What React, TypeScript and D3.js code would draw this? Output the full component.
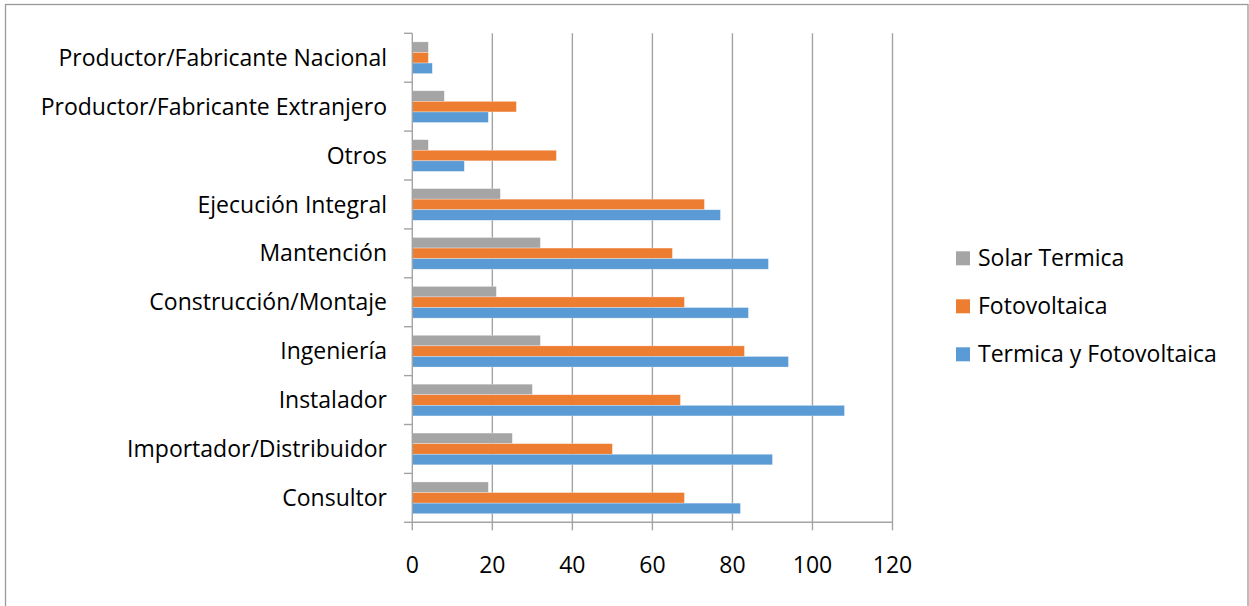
import React from "react";
import * as d3 from "d3";

const categories = [
  "Productor/Fabricante Nacional",
  "Productor/Fabricante Extranjero",
  "Otros",
  "Ejecución Integral",
  "Mantención",
  "Construcción/Montaje",
  "Ingeniería",
  "Instalador",
  "Importador/Distribuidor",
  "Consultor",
];
const seriesNames = ["Solar Termica", "Fotovoltaica", "Termica y Fotovoltaica"];
const solarTermica = [4, 8, 4, 22, 32, 21, 32, 30, 25, 19];
const fotovoltaica = [4, 26, 36, 73, 65, 68, 83, 67, 50, 68];
const termicaYFoto = [5, 19, 13, 77, 89, 84, 94, 108, 90, 82];
const seriesColors = ["#A5A5A5", "#ED7D31", "#5B9BD5"];
const xTicks = [0, 20, 40, 60, 80, 100, 120];

const W = 1249;
const H = 606;
const FONT = "'Open Sans', sans-serif";

export default function App() {
  const values = [solarTermica, fotovoltaica, termicaYFoto];
  const x = d3.scaleLinear().domain([0, 120]).range([412.3, 892.5]);
  const y0 = d3.scaleBand<string>().domain(categories).range([33.3, 522.3]);
  const y1 = d3
    .scaleBand<string>()
    .domain(seriesNames)
    .range([0, y0.bandwidth()])
    .paddingInner(0)
    .paddingOuter(0.81);
  const gridColor = "#a3a3a3";
  const plotTop = 33.3;
  const plotBottom = 522.3;

  return (
    <svg
      width={W}
      height={H}
      style={{ position: "absolute", left: 0, top: 0, background: "#fff" }}
    >
      <rect x={5.5} y={4.5} width={1242.5} height={610} fill="#fff" stroke="#9a9a9a" strokeWidth={1.3} />
      {/* gridlines */}
      {xTicks.slice(1).map((t) => (
        <line key={"g" + t} x1={x(t)} x2={x(t)} y1={plotTop} y2={plotBottom} stroke={gridColor} strokeWidth={1.4} />
      ))}
      {/* bars */}
      {categories.map((c, i) => (
        <g key={c} transform={`translate(0,${y0(c)})`}>
          {seriesNames.map((s, j) => (
            <rect
              key={s}
              x={x(0)}
              y={y1(s)}
              width={x(values[j][i]) - x(0)}
              height={y1.bandwidth()}
              fill={seriesColors[j]}
              stroke="#ffffff"
              strokeOpacity={0.5}
              strokeWidth={0.6}
            />
          ))}
        </g>
      ))}
      {/* y axis */}
      <line x1={x(0)} x2={x(0)} y1={plotTop} y2={plotBottom} stroke={gridColor} strokeWidth={1.4} />
      {categories.map((c, i) => (
        <line key={"yt" + i} x1={404} x2={x(0)} y1={y0(c)} y2={y0(c)} stroke={gridColor} strokeWidth={1.4} />
      ))}
      <line x1={404} x2={x(0)} y1={plotBottom} y2={plotBottom} stroke={gridColor} strokeWidth={1.4} />
      {categories.map((c) => (
        <text
          key={"yl" + c}
          x={387}
          y={(y0(c) as number) + y0.bandwidth() / 2}
          dy="0.35em"
          textAnchor="end"
          fontFamily={FONT}
          fontSize={23}
          fill="#000"
        >
          {c}
        </text>
      ))}
      {/* x axis */}
      <line x1={x(0)} x2={x(120)} y1={plotBottom} y2={plotBottom} stroke={gridColor} strokeWidth={1.4} />
      {xTicks.map((t) => (
        <g key={"xt" + t}>
          <line x1={x(t)} x2={x(t)} y1={plotBottom} y2={plotBottom + 8} stroke={gridColor} strokeWidth={1.4} />
          <text x={x(t)} y={573} textAnchor="middle" fontFamily={FONT} fontSize={23} fill="#000">
            {t}
          </text>
        </g>
      ))}
      {/* legend */}
      {seriesNames.map((s, j) => (
        <g key={"lg" + s} transform={`translate(956,${258.3 + j * 48})`}>
          <rect x={0} y={-7} width={14} height={14} fill={seriesColors[j]} />
          <text x={22} y={0} dy="0.35em" fontFamily={FONT} fontSize={23} fill="#000">
            {s}
          </text>
        </g>
      ))}
    </svg>
  );
}
